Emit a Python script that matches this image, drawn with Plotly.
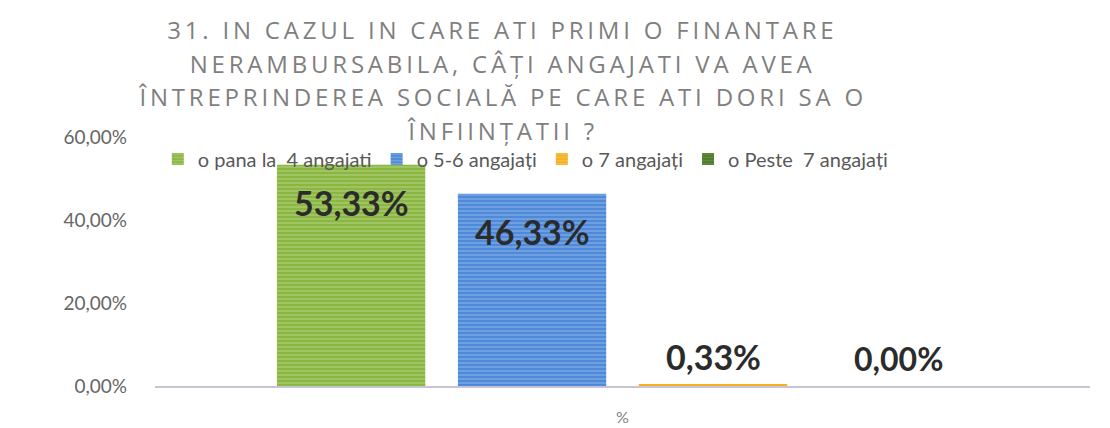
import plotly.graph_objects as go

# Data
series = ["o pana la  4 angajati", "o 5-6 angajați", "o 7 angajați", "o Peste  7 angajați"]
values = [0.5333, 0.4633, 0.0033, 0.0]
colors = ["#8ab642", "#4f8ad8", "#f5b120", "#4d7a2b"]
stripes = ["#c8df9e", "#a9c8f0", "#f9d27a", "#86a866"]
category = "%"

title_lines = ["31. IN CAZUL IN CARE ATI PRIMI O FINANTARE",
               "NERAMBURSABILA, CÂȚI ANGAJATI VA AVEA",
               "ÎNTREPRINDEREA SOCIALĂ PE CARE ATI DORI SA O",
               "ÎNFIINȚATII ?"]

fig = go.Figure()
for i, (name, v) in enumerate(zip(series, values)):
    fig.add_trace(go.Bar(
        x=[category], y=[v], name=name,
        marker=dict(color=colors[i], line=dict(width=0),
                    pattern=dict(shape="-", fgcolor=stripes[i], size=4, solidity=0.35)),
        hoverinfo="y",
    ))

# value labels (comma decimal, like the original)
slot = 181
for i, v in enumerate(values):
    fig.add_annotation(
        x=category, y=v, xref="x", yref="y",
        text=f"{v * 100:.2f}%".replace(".", ","),
        xshift=(i - 1.5) * slot + (4 if i == 3 else 0), yshift=-38 if v > 0.1 else 28,
        showarrow=False,
        font=dict(family="Lato", size=34 if v > 0 else 32, color="#2b2b2b", weight="bold"),
    )

# title, one line per annotation
for k, line in enumerate(title_lines):
    fig.add_annotation(
        text=line, xref="paper", yref="paper",
        x=0.372, y=[1.43, 1.297, 1.161, 1.028][k], xanchor="center", yanchor="middle",
        showarrow=False,
        font=dict(family="Open Sans", size=24, color="#7f7f7f"),
    )

fig.update_layout(
    width=1110, height=428,
    paper_bgcolor="white", plot_bgcolor="white",
    separators=", ",
    font=dict(family="Lato", color="#595959"),
    barmode="group", bargap=0.226, bargroupgap=0.18,
    margin=dict(l=147, r=28, t=129, b=50),
    showlegend=True,
    legend=dict(orientation="h", x=0.003, y=0.99, xanchor="left", yanchor="top",
                font=dict(family="Lato", size=20, color="#595959"),
                bgcolor="rgba(0,0,0,0)", itemwidth=30),
)
fig.update_yaxes(range=[0, 0.6], tickformat=".2%", tickvals=[0, 0.2, 0.4, 0.6],
                 showgrid=False, zeroline=False, showline=False, automargin=False,
                 tickfont=dict(family="Lato", size=19, color="#666666"),
                 ticklabelstandoff=27)
fig.update_xaxes(showline=True, linecolor="#c9c3d8", linewidth=2, automargin=False,
                 tickfont=dict(family="Lato", size=16, color="#7f7f7f"),
                 ticklabelstandoff=16)

# letter spacing for the title lines
post = """
document.querySelectorAll('.annotation-text').forEach(function(t){
  if (t.textContent === t.textContent.toUpperCase() && t.textContent.length > 10) {
    t.style.letterSpacing = '3.8px';
  }
});
"""
fig.write_html("out.html", post_script=post)
